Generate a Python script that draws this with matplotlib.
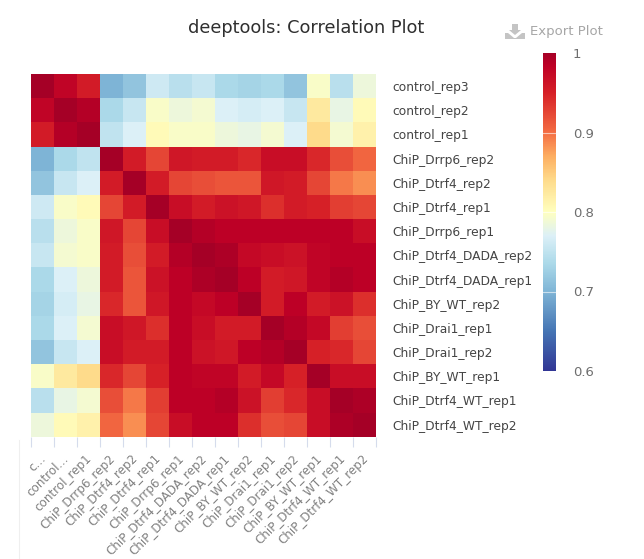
import numpy as np
import matplotlib
matplotlib.use('Agg')
import matplotlib.pyplot as plt
from matplotlib.colors import LinearSegmentedColormap
from matplotlib.lines import Line2D
from matplotlib.patches import Polygon

samples = ['control_rep3', 'control_rep2', 'control_rep1', 'ChiP_Drrp6_rep2',
           'ChiP_Dtrf4_rep2', 'ChiP_Dtrf4_rep1', 'ChiP_Drrp6_rep1',
           'ChiP_Dtrf4_DADA_rep2', 'ChiP_Dtrf4_DADA_rep1', 'ChiP_BY_WT_rep2',
           'ChiP_Drai1_rep1', 'ChiP_Drai1_rep2', 'ChiP_BY_WT_rep1',
           'ChiP_Dtrf4_WT_rep1', 'ChiP_Dtrf4_WT_rep2']
# plotly cuts the first two labels short
x_labels = ['c…', 'control…'] + samples[2:]

corr = [
    [1.00, .980, .955, .700, .715, .760, .745, .755, .735, .730, .735, .715, .795, .745, .785],
    [.980, 1.00, .990, .735, .755, .795, .785, .790, .770, .765, .770, .755, .825, .780, .805],
    [.955, .990, 1.00, .750, .770, .805, .795, .795, .785, .780, .790, .770, .840, .790, .815],
    [.700, .735, .750, 1.00, .955, .925, .960, .955, .955, .945, .970, .970, .945, .920, .905],
    [.715, .755, .770, .955, 1.00, .955, .925, .920, .915, .915, .960, .955, .925, .895, .885],
    [.760, .795, .805, .925, .955, 1.00, .970, .955, .965, .960, .940, .955, .950, .930, .925],
    [.745, .785, .795, .960, .925, .970, 1.00, .990, .985, .985, .985, .985, .985, .985, .970],
    [.755, .790, .795, .955, .920, .955, .990, 1.00, .995, .975, .970, .965, .980, .985, .985],
    [.735, .770, .785, .955, .915, .965, .985, .995, 1.00, .985, .955, .960, .980, .990, .985],
    [.730, .765, .780, .945, .915, .960, .985, .975, .985, 1.00, .955, .985, .955, .965, .940],
    [.735, .770, .790, .970, .960, .940, .985, .970, .955, .955, 1.00, .990, .975, .930, .920],
    [.715, .755, .770, .970, .955, .955, .985, .965, .960, .985, .990, 1.00, .950, .945, .925],
    [.795, .825, .840, .945, .925, .950, .985, .980, .980, .955, .975, .950, 1.00, .970, .970],
    [.745, .780, .790, .920, .895, .930, .985, .985, .990, .965, .930, .945, .970, 1.00, .995],
    [.785, .805, .815, .905, .885, .925, .970, .985, .985, .940, .920, .925, .970, .995, 1.00],
]
bar_ticks = [0.6, 0.7, 0.8, 0.9, 1.0]
bar_labels = ['0.6', '0.7', '0.8', '0.9', '1']

W, H = 644.0, 559.0


def fig_rect(x0, y0, x1, y1):
    # pixel box (top-left origin) to figure fractions
    return [x0 / W, 1 - y1 / H, (x1 - x0) / W, (y1 - y0) / H]


# RdYlBu, stops squeezed to fit what the colour bar shows
stops = [(0.60, '#313695'), (0.65, '#4575b4'), (0.70, '#7fb5d6'), (0.735, '#abd9e9'),
         (0.77, '#dcf0f7'), (0.80, '#ffffbf'), (0.84, '#fedb8b'), (0.87, '#fdae61'),
         (0.90, '#f46d43'), (0.95, '#d62027'), (0.985, '#bd0026'), (1.00, '#a50026')]
cmap = LinearSegmentedColormap.from_list(
    'corr', [((v - 0.6) / 0.4, c) for v, c in stops], N=512)

fig = plt.figure(figsize=(6.44, 5.59), dpi=100, facecolor='white')
ax = fig.add_axes(fig_rect(30.7, 74, 376, 436.7))

n = len(samples)
mesh = ax.pcolormesh(np.arange(n + 1), np.arange(n + 1), np.array(corr),
                     cmap=cmap, vmin=0.6, vmax=1.0)
ax.set_xlim(0, n)
ax.set_ylim(n, 0)
for s in ax.spines.values():
    s.set_visible(False)

# grid-like ticks at cell edges, labels at cell centres
ax.set_xticks(np.arange(n + 1))
ax.set_xticklabels([])
ax.tick_params(axis='x', length=7, width=0.8, color='#d5dcec', bottom=True)
ax.tick_params(axis='y', length=0)
ax.set_yticks(np.arange(n) + 0.5)
ax.set_yticklabels(samples, fontsize=8.8, color='#444444')
ax.tick_params(axis='y', pad=12)
ax.yaxis.tick_right()

for i, lab in enumerate(x_labels):
    ax.annotate(lab, xy=(i + 0.5, n), xytext=(-2, -11), textcoords='offset points',
                rotation=45, ha='right', va='top', rotation_mode='anchor',
                fontsize=8.6, color='#808080', annotation_clip=False)

cax = fig.add_axes(fig_rect(542.5, 53, 556, 371))
cb = fig.colorbar(mesh, cax=cax)
cb.outline.set_visible(False)
cb.set_ticks(bar_ticks)
cb.set_ticklabels(bar_labels)
cax.tick_params(length=0, pad=12, labelsize=9.5, labelcolor='#6e6e6e')
for t in bar_ticks[1:-1]:
    cax.axhline(t, color='white', lw=0.8, alpha=0.6)

fig.text(306 / W, 1 - 28 / H, 'deeptools: Correlation Plot', ha='center', va='center',
         fontsize=12.8, color='#2f2f2f')
fig.text(530 / W, 1 - 32 / H, 'Export Plot', va='center', fontsize=9.5, color='#a6a6a6')

# export icon: arrow into a tray
icon = '#c4c4c4'
arrow = [(512, 24), (518, 24), (518, 30), (521, 30), (515, 35), (509, 30), (512, 30)]
tray = [(505, 33), (508, 33), (514, 38), (516, 38), (522, 33), (525, 33), (525, 39), (505, 39)]
for pts in (arrow, tray):
    fig.add_artist(Polygon([(x / W, 1 - y / H) for x, y in pts], closed=True, fc=icon,
                           ec='none', transform=fig.transFigure))

# faint page edge from the screenshot
fig.add_artist(Line2D([18.5 / W, 18.5 / W], [0, 1 - 440 / H], color='#efefef', lw=0.8))

fig.savefig('out.png', dpi=100)
